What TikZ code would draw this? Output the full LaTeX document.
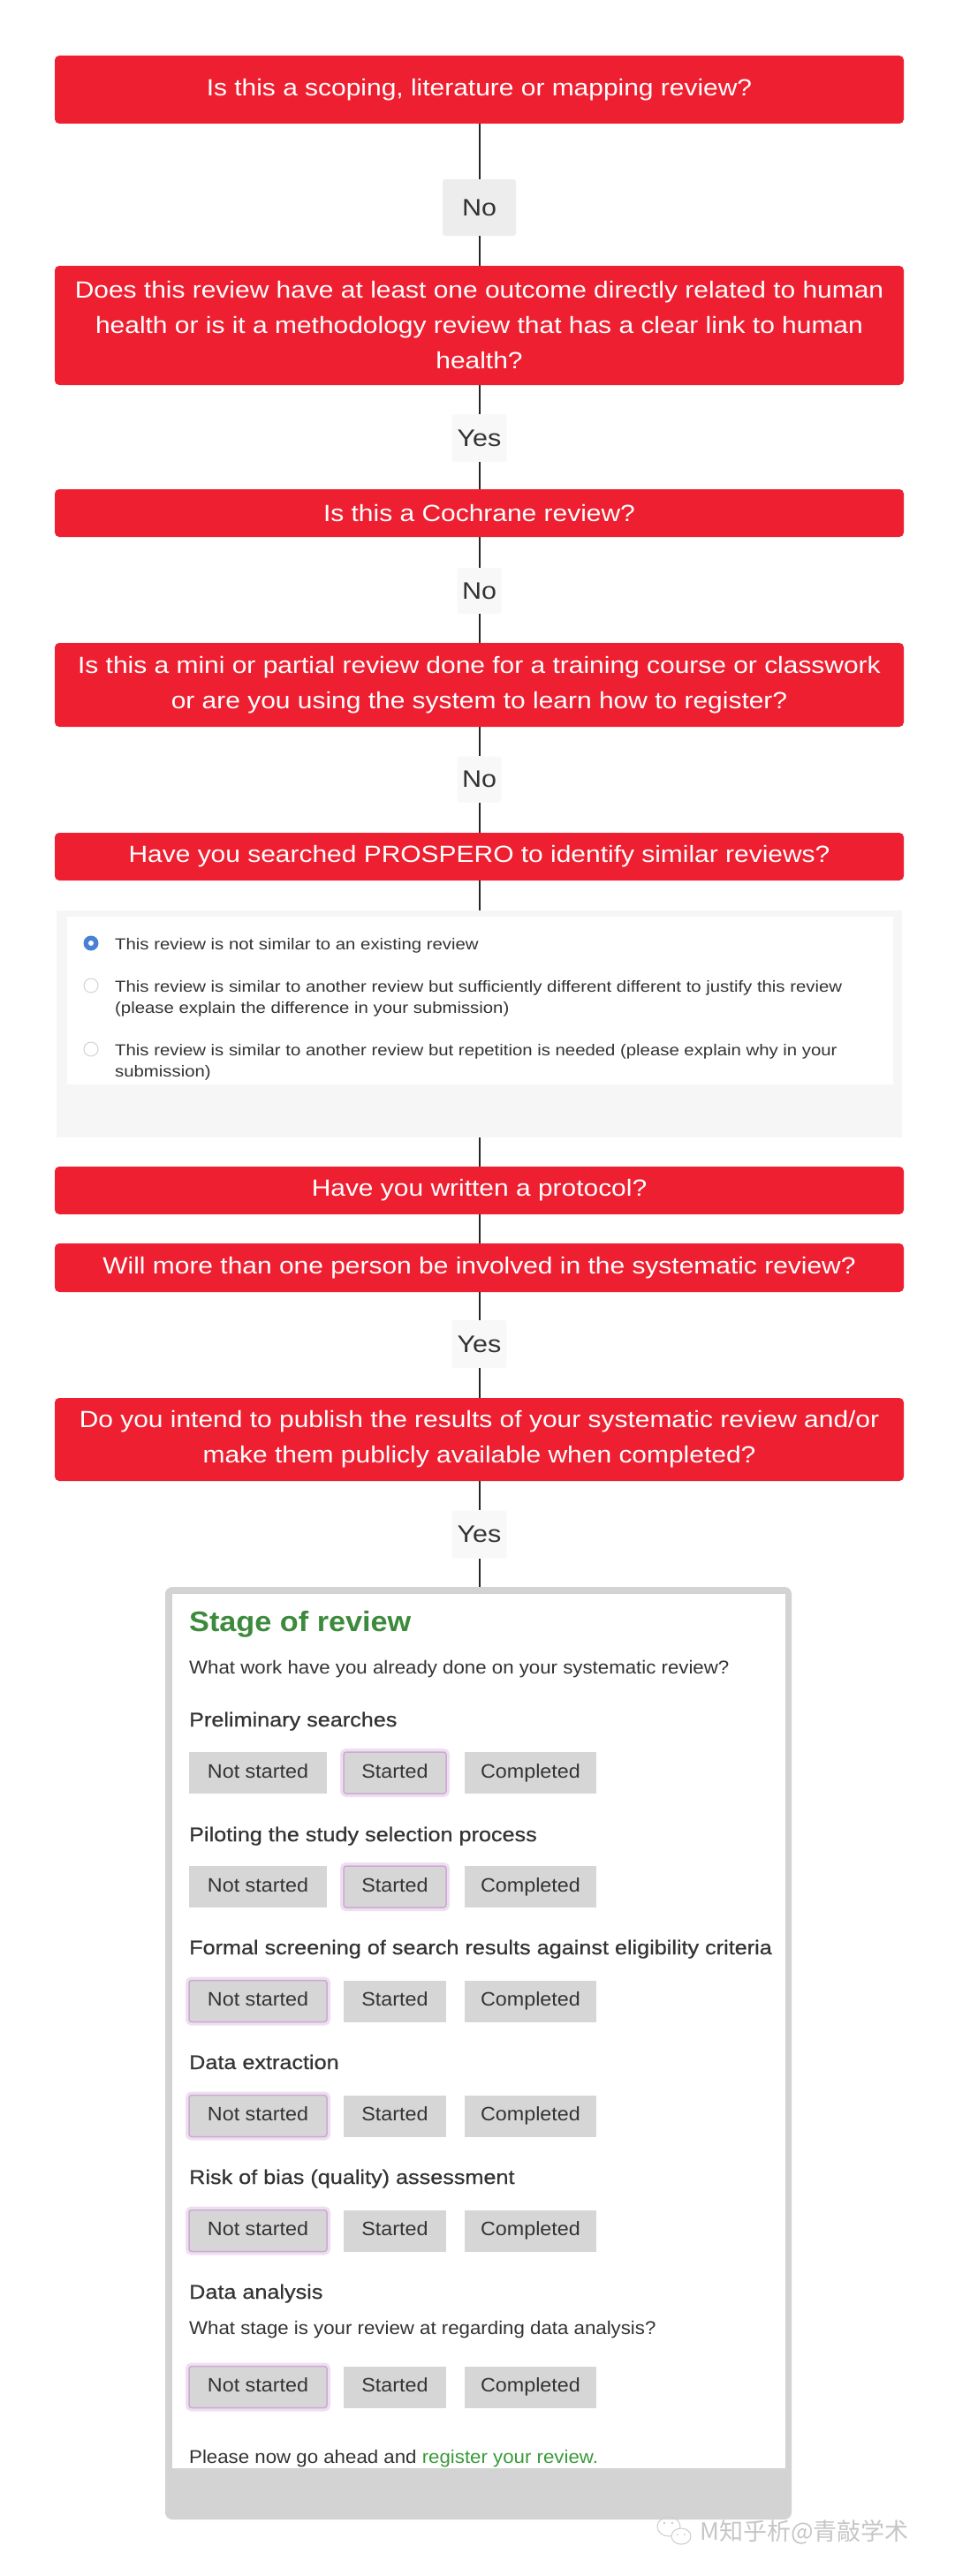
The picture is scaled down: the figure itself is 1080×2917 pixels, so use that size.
\documentclass[tikz,border=0pt]{standalone}
\usepackage{fontspec}
\usepackage{xcolor}
\usepackage{tikz}
\setmainfont{Liberation Sans}
\newfontfamily\flowfont[FakeStretch=1.13]{Liberation Sans}
\newfontfamily\formfont[FakeStretch=1.06]{Liberation Sans}
\newfontfamily\formmed[FakeStretch=1.12,FakeBold=0.6]{Liberation Sans}
\newfontfamily\formhead[FakeStretch=1.07]{Liberation Sans}
\newfontfamily\cjk{Noto Sans CJK SC}
\definecolor{qred}{HTML}{EE1F30}
\definecolor{ansgray}{HTML}{F8F8F8}
\definecolor{ansfirst}{HTML}{EDEDED}
\definecolor{panelgray}{HTML}{F6F6F6}
\definecolor{stagegray}{HTML}{D3D3D3}
\definecolor{btngray}{HTML}{D6D6D6}
\definecolor{txtdark}{HTML}{333333}
\definecolor{stagegreen}{HTML}{3C8A3C}
\definecolor{linkgreen}{HTML}{3A9A3A}
\definecolor{radioblue}{HTML}{4A80D6}
\definecolor{glowpurple}{HTML}{CDA9D3}
\definecolor{glowpale}{HTML}{EEDFF0}

\begin{document}
\begin{tikzpicture}[x=1pt, y=-1pt,
  qbox/.style={rectangle, rounded corners=5pt, fill=qred, text=white, inner sep=0pt, minimum width=961pt, align=center, font=\flowfont\fontsize{26.5}{40}\selectfont},
  answer/.style={rectangle, rounded corners=3pt, fill=ansgray, text=txtdark, inner sep=0pt, minimum width=62pt, minimum height=54pt, font=\flowfont\fontsize{27}{27}\selectfont},
  link/.style={draw=black!85, line width=2pt},
  radiotext/.style={anchor=base west, inner sep=0pt, align=left, text=txtdark, font=\flowfont\fontsize{18}{24.5}\selectfont},
  formtext/.style={anchor=base west, inner sep=0pt, text=txtdark, font=\formfont\fontsize{21}{21}\selectfont},
  formlabel/.style={anchor=base west, inner sep=0pt, text=txtdark, font=\formmed\fontsize{22.5}{22.5}\selectfont},
  btn/.style={rectangle, fill=btngray, inner sep=0pt, minimum height=47pt, text height=16pt, text depth=5pt, text=txtdark, font=\formfont\fontsize{22}{22}\selectfont},
  picked/.style={draw=glowpurple, line width=1.5pt, rounded corners=3pt, preaction={draw=glowpale, line width=8pt}}
]
  \fill[white] (0,0) rectangle (1080,2917);
  \useasboundingbox (0,0) rectangle (1080,2917);
  % questions of the flow
  \node[qbox, minimum height=77pt] (scoping) at (542.5,101.5) {Is this a scoping, literature or mapping review?};
  \node[answer, fill=ansfirst, minimum width=83pt, minimum height=64pt] (noScoping) at (542.5,235) {No};
  \node[qbox, minimum height=135pt] (health) at (542.5,368.5) {Does this review have at least one outcome directly related to human\\ health or is it a methodology review that has a clear link to human\\ health?};
  \node[answer] (yesHealth) at (542.5,496) {Yes};
  \node[qbox, minimum height=54pt] (cochrane) at (542.5,581) {Is this a Cochrane review?};
  \node[answer, minimum width=50pt, minimum height=52pt] (noCochrane) at (542.5,669) {No};
  \node[qbox, minimum height=95pt] (mini) at (542.5,775.5) {Is this a mini or partial review done for a training course or classwork\\ or are you using the system to learn how to register?};
  \node[answer, minimum width=50pt, minimum height=52pt] (noMini) at (542.5,882.5) {No};
  \node[qbox, minimum height=54pt] (prospero) at (542.5,970) {Have you searched PROSPERO to identify similar reviews?};
  % similar reviews panel
  \node[rectangle, fill=panelgray, inner sep=0pt, minimum width=957pt, minimum height=257pt] (simpanel) at (542.5,1159.5) {};
  \fill[white] (76,1038) rectangle (1011,1228);
  \fill[radioblue] (103,1068) circle (8.5pt);
  \fill[white] (103,1068) circle (3pt);
  \draw[gray!35, fill=white, line width=1pt] (103,1116) circle (8pt);
  \draw[gray!35, fill=white, line width=1pt] (103,1188) circle (8pt);
  \node[radiotext] (simNone) at (130,1075) {This review is not similar to an existing review};
  \node[radiotext] (simDiff) at (130,1147.5) {This review is similar to another review but sufficiently different different to justify this review\\ (please explain the difference in your submission)};
  \node[radiotext] (simRepeat) at (130,1219.5) {This review is similar to another review but repetition is needed (please explain why in your\\ submission)};
  \node[qbox, minimum height=54pt] (protocol) at (542.5,1348) {Have you written a protocol?};
  \node[qbox, minimum height=55pt] (team) at (542.5,1435.5) {Will more than one person be involved in the systematic review?};
  \node[answer] (yesTeam) at (542.5,1522) {Yes};
  \node[qbox, minimum height=94pt] (publish) at (542.5,1630) {Do you intend to publish the results of your systematic review and/or\\ make them publicly available when completed?};
  \node[answer] (yesPublish) at (542.5,1737.5) {Yes};
  % stage of review form
  \node[rectangle, rounded corners=8pt, fill=stagegray, inner sep=0pt, minimum width=709pt, minimum height=1056pt] (stage) at (541.5,2325) {};
  \fill[white] (195,1805) rectangle (889,2795);
  \node[anchor=base west, inner sep=0pt, text=stagegreen, font=\formhead\bfseries\fontsize{32}{32}\selectfont] (stageTitle) at (214,1847) {Stage of review};
  \node[formtext] (workQ) at (214,1895) {What work have you already done on your systematic review?};
  \node[formlabel] (prelim) at (214,1955) {Preliminary searches};
  \node[btn, minimum width=156pt] (prelimNot) at (292,2007.5) {Not started};
  \node[btn, minimum width=116pt, picked] (prelimStart) at (447,2007.5) {Started};
  \node[btn, minimum width=149pt] (prelimDone) at (600.5,2007.5) {Completed};
  \node[formlabel] (pilot) at (214,2085) {Piloting the study selection process};
  \node[btn, minimum width=156pt] (pilotNot) at (292,2136.5) {Not started};
  \node[btn, minimum width=116pt, picked] (pilotStart) at (447,2136.5) {Started};
  \node[btn, minimum width=149pt] (pilotDone) at (600.5,2136.5) {Completed};
  \node[formlabel] (screen) at (214,2213) {Formal screening of search results against eligibility criteria};
  \node[btn, minimum width=156pt, picked] (screenNot) at (292,2266) {Not started};
  \node[btn, minimum width=116pt] (screenStart) at (447,2266) {Started};
  \node[btn, minimum width=149pt] (screenDone) at (600.5,2266) {Completed};
  \node[formlabel] (extract) at (214,2343) {Data extraction};
  \node[btn, minimum width=156pt, picked] (extractNot) at (292,2396) {Not started};
  \node[btn, minimum width=116pt] (extractStart) at (447,2396) {Started};
  \node[btn, minimum width=149pt] (extractDone) at (600.5,2396) {Completed};
  \node[formlabel] (bias) at (214,2473) {Risk of bias (quality) assessment};
  \node[btn, minimum width=156pt, picked] (biasNot) at (292,2526) {Not started};
  \node[btn, minimum width=116pt] (biasStart) at (447,2526) {Started};
  \node[btn, minimum width=149pt] (biasDone) at (600.5,2526) {Completed};
  \node[formlabel] (analysis) at (214,2603) {Data analysis};
  \node[formtext] (analysisQ) at (214,2643) {What stage is your review at regarding data analysis?};
  \node[btn, minimum width=156pt, picked] (analysisNot) at (292,2703) {Not started};
  \node[btn, minimum width=116pt] (analysisStart) at (447,2703) {Started};
  \node[btn, minimum width=149pt] (analysisDone) at (600.5,2703) {Completed};
  \node[formtext] (goAhead) at (214,2789) {Please now go ahead and \textcolor{linkgreen}{register your review.}};
  % connectors
  \draw[link] (scoping) -- (noScoping);
  \draw[link] (noScoping) -- (health);
  \draw[link] (health) -- (yesHealth);
  \draw[link] (yesHealth) -- (cochrane);
  \draw[link] (cochrane) -- (noCochrane);
  \draw[link] (noCochrane) -- (mini);
  \draw[link] (mini) -- (noMini);
  \draw[link] (noMini) -- (prospero);
  \draw[link] (prospero) -- (simpanel);
  \draw[link] (simpanel) -- (protocol);
  \draw[link] (protocol) -- (team);
  \draw[link] (team) -- (yesTeam);
  \draw[link] (yesTeam) -- (publish);
  \draw[link] (publish) -- (yesPublish);
  \draw[link] (yesPublish.south) -- (yesPublish.south |- stage.north);
  % watermark
  \draw[gray!40, line width=1pt] (757,2861) ellipse (13pt and 11pt);
  \draw[gray!40, fill=white, line width=1pt] (771,2872) ellipse (11pt and 9pt);
  \fill[gray!40] (752,2857) circle (1.3pt) (761,2857) circle (1.3pt) (767,2870) circle (1pt) (775,2870) circle (1pt);
  \node[anchor=west, inner sep=0pt, text=gray!45, font=\cjk\fontsize{27}{27}\selectfont] (wmark) at (792,2867) {M知乎析@青敲学术};
\end{tikzpicture}
\end{document}
